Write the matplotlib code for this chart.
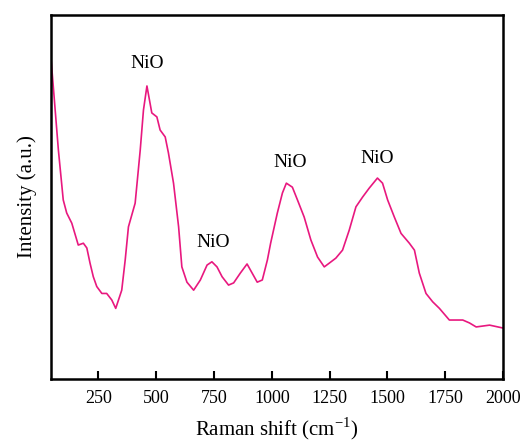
import matplotlib
matplotlib.use("Agg")
import matplotlib.pyplot as plt

# Raman spectrum (arbitrary intensity units)
shift = [45, 55, 77, 98, 113, 135, 163, 185, 200, 214, 228, 243, 265, 286, 308, 325,
         351, 366, 380, 409, 431, 445, 460, 481, 503, 517, 539, 553, 575, 597, 611,
         633, 662, 691, 720, 741, 763, 785, 813, 835, 864, 893, 915, 937, 959,
         981, 995, 1024, 1046, 1063, 1089, 1111, 1140, 1169, 1198, 1227, 1248, 1277,
         1306, 1335, 1364, 1393, 1421, 1457, 1479, 1501, 1530, 1559, 1595, 1617,
         1638, 1667, 1696, 1725, 1768, 1826, 1855, 1884, 1942, 2000]
intensity = [0.881, 0.803, 0.629, 0.492, 0.456, 0.428, 0.368, 0.373, 0.360, 0.318,
             0.281, 0.254, 0.235, 0.235, 0.217, 0.194, 0.244, 0.327, 0.418, 0.483,
             0.629, 0.739, 0.805, 0.731, 0.720, 0.684, 0.665, 0.621, 0.538, 0.418,
             0.308, 0.266, 0.244, 0.272, 0.313, 0.322, 0.308, 0.281, 0.258, 0.264,
             0.291, 0.316, 0.291, 0.266, 0.272, 0.327, 0.373, 0.456, 0.511, 0.538,
             0.527, 0.492, 0.445, 0.382, 0.335, 0.308, 0.318, 0.332, 0.354, 0.409,
             0.473, 0.500, 0.524, 0.552, 0.538, 0.492, 0.445, 0.400, 0.373, 0.354,
             0.291, 0.235, 0.212, 0.194, 0.162, 0.162, 0.154, 0.143, 0.148, 0.140]

peak_labels = ["NiO", "NiO", "NiO", "NiO"]
peak_x = [461, 747, 1081, 1457]
peak_y = [0.868, 0.374, 0.596, 0.607]

xticks = [250, 500, 750, 1000, 1250, 1500, 1750, 2000]

plt.rcParams['font.family'] = ['Liberation Serif', 'DejaVu Serif']
plt.rcParams['mathtext.fontset'] = 'custom'
plt.rcParams['mathtext.rm'] = 'Liberation Serif'

fig = plt.figure(figsize=(5.24, 4.41), dpi=100)
ax = fig.add_axes([0.0973, 0.1406, 0.8626, 0.8254])

ax.plot(shift, intensity, color='#e8187f', linewidth=1.2)

for lab, x, y in zip(peak_labels, peak_x, peak_y):
    ax.text(x, y, lab, ha='center', va='center', fontsize=14)

ax.set_xlim(45, 2000)
ax.set_ylim(0, 1)
ax.set_xticks(xticks)
ax.set_yticks([])
ax.tick_params(axis='x', direction='in', length=6, width=1.5, labelsize=13, pad=8)
for sp in ax.spines.values():
    sp.set_linewidth(1.8)

ax.set_xlabel('Raman shift (cm$^{\\mathregular{-1}}$)', fontsize=15, labelpad=6)
ax.set_ylabel('Intensity (a.u.)', fontsize=15, labelpad=10)

fig.savefig('out.png', dpi=100)
